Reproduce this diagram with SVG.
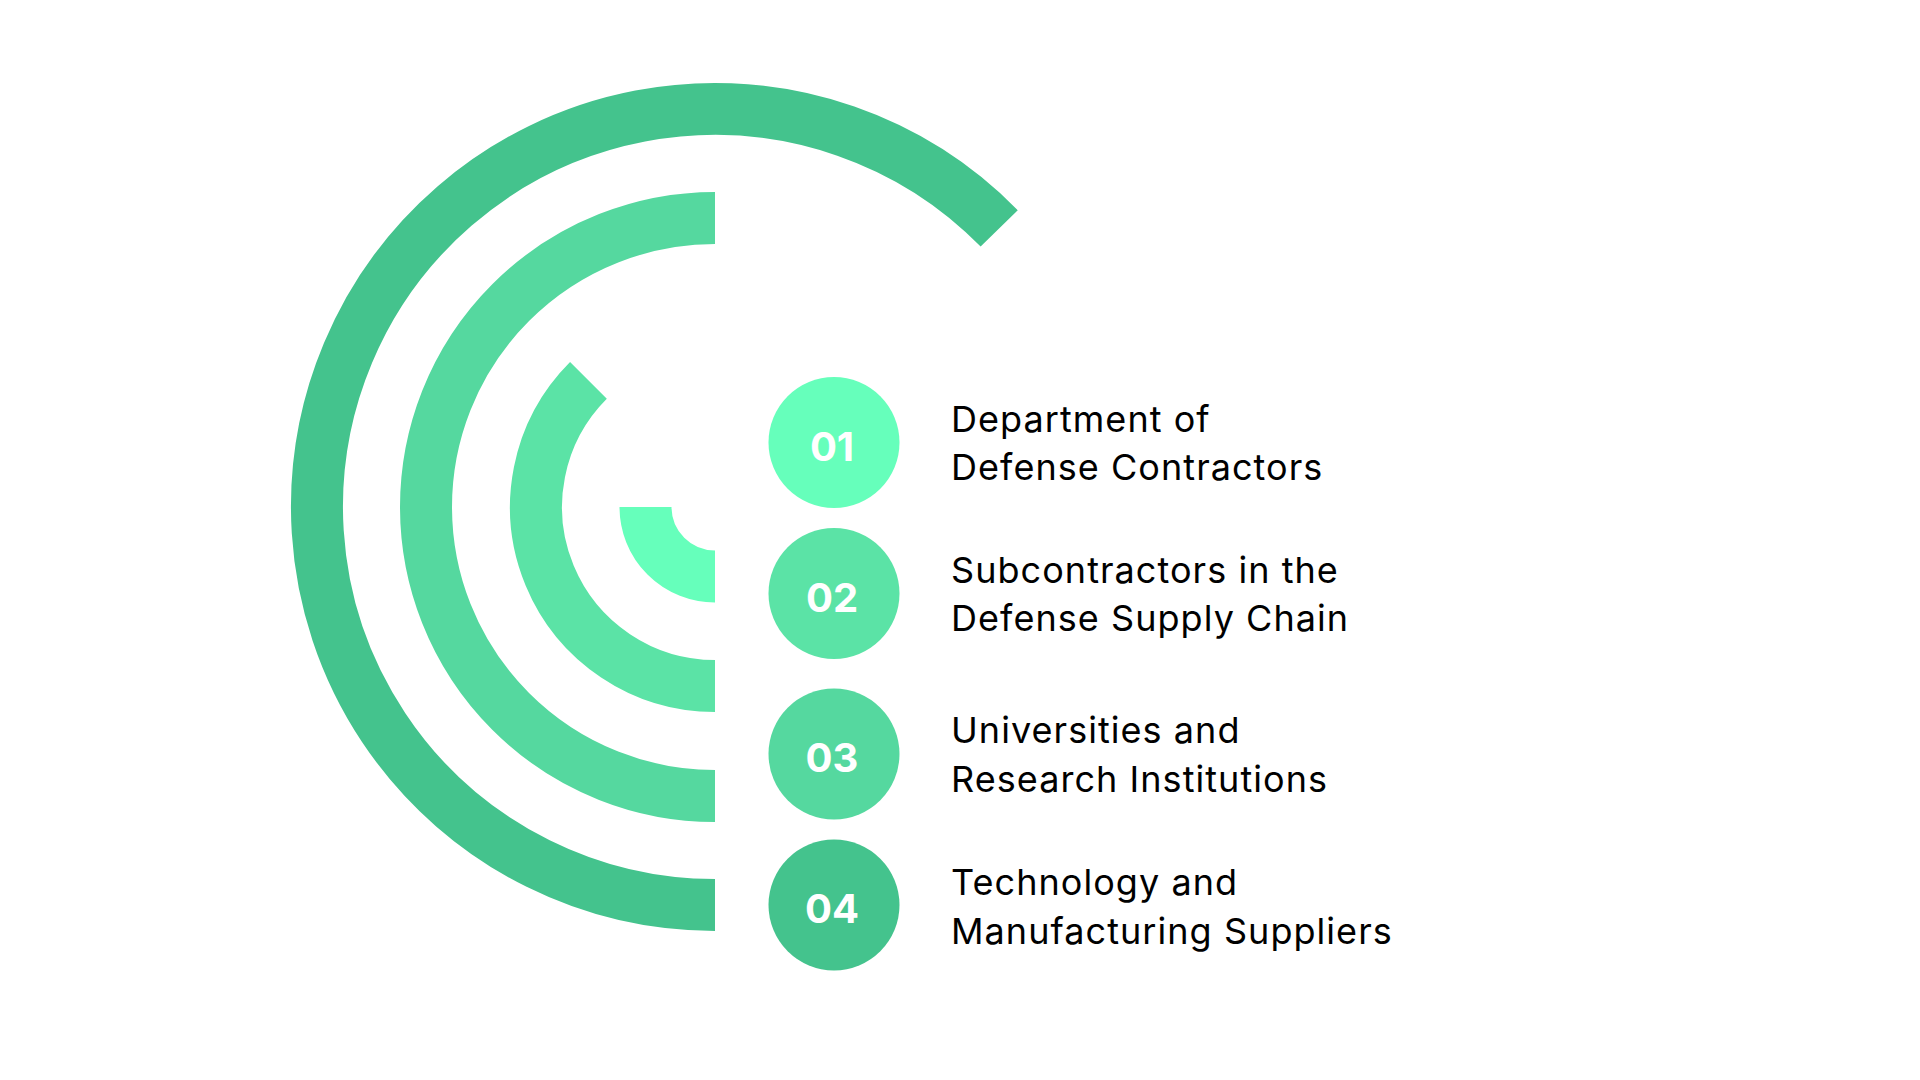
<svg xmlns="http://www.w3.org/2000/svg" width="1920" height="1080" viewBox="0 0 1920 1080">
  <style>
    .ring { fill: none; stroke-width: 52; stroke-linecap: butt; }
    .num { font-family: Inter, "DejaVu Sans", sans-serif; font-size: 40px; font-weight: 700; fill: #FFFFFF; text-anchor: middle; }
    .label { font-family: Inter, "Liberation Sans", sans-serif; font-size: 36px; font-weight: 400; letter-spacing: 1.05px; fill: #000000; }
    .c1 { fill: #66FFBB; }
    .c2 { fill: #5BE3A6; }
    .c3 { fill: #55D89F; }
    .c4 { fill: #44C38D; }
  </style>
  <rect width="1920" height="1080" fill="#FFFFFF"/>
  <g id="rings">
    <path id="ring-outer" class="ring" stroke="#44C38D" d="M715,905 A398,398 0 1 1 999.2,228.4"/>
    <path id="ring-second" class="ring" stroke="#55D89F" d="M715,218 A289,289 0 0 0 715,796"/>
    <path id="ring-third" class="ring" stroke="#5BE3A6" d="M715,686 A179,179 0 0 1 588.43,380.43"/>
    <path id="ring-inner" class="ring" stroke="#66FFBB" d="M645.5,507 A69.5,69.5 0 0 0 715,576.5"/>
  </g>
  <g id="node-01">
    <circle class="c1" cx="834" cy="442.5" r="65.5"/>
    <text class="num" x="832" y="460.5">01</text>
    <text class="label" x="951" y="431.5">Department of</text>
    <text class="label" x="951" y="480">Defense Contractors</text>
  </g>
  <g id="node-02">
    <circle class="c2" cx="834" cy="593.5" r="65.5"/>
    <text class="num" x="832" y="611.5">02</text>
    <text class="label" x="951" y="582.5">Subcontractors in the</text>
    <text class="label" x="951" y="631">Defense Supply Chain</text>
  </g>
  <g id="node-03">
    <circle class="c3" cx="834" cy="754" r="65.5"/>
    <text class="num" x="832" y="772">03</text>
    <text class="label" x="951" y="743">Universities and</text>
    <text class="label" x="951" y="791.5">Research Institutions</text>
  </g>
  <g id="node-04">
    <circle class="c4" cx="834" cy="905" r="65.5"/>
    <text class="num" x="832" y="923">04</text>
    <text class="label" x="951" y="895">Technology and</text>
    <text class="label" x="951" y="943.5">Manufacturing Suppliers</text>
  </g>
</svg>
